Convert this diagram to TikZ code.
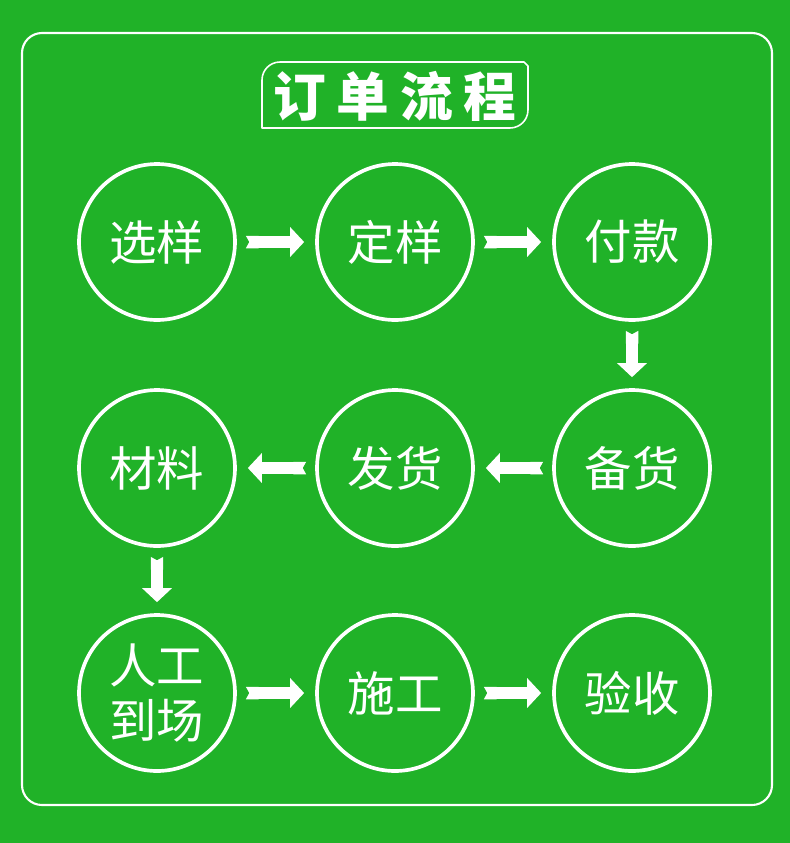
\documentclass[tikz,border=0pt]{standalone}
\usepackage{fontspec}
\newfontfamily\cjk{Noto Sans CJK SC}
\usetikzlibrary{arrows.meta}

\definecolor{gazon}{RGB}{32,178,40}

\begin{document}
\begin{tikzpicture}[x=0.02cm,y=-0.02cm,line cap=round,line join=round,
  etape/.style={circle,draw=white,line width=2.1pt,minimum size=3.12cm,
    inner sep=0pt,text=white,font=\cjk\fontsize{27}{31}\selectfont,align=center},
  fleche/.style={draw=white,line width=0.25cm,line cap=butt,
    arrows={{Triangle Cap[reversed,length=0.07cm]}-{Triangle[length=0.28cm,width=0.58cm]}},
    shorten <=0.18cm,shorten >=0.22cm}]

% -----------------------
% Fond et cadre
% -----------------------
\fill[gazon] (0,0) rectangle (790,843);
\useasboundingbox (0,0) rectangle (790,843);
\draw[white,line width=1.2pt,rounded corners=0.4cm] (22,33) rectangle (772,805);

% -----------------------
% Titre
% -----------------------
\draw[white,line width=0.9pt]
  (262,128) -- (262,80) arc[start angle=180,end angle=90,radius=0.36cm]
  -- (524,62) -- (528,66) -- (528,110) arc[start angle=0,end angle=-90,radius=0.36cm]
  -- cycle;
\node[text=white,font=\cjk\fontsize{30}{34}\selectfont\bfseries] (titre) at (395,96)
  {订\hspace{0.2em}单\hspace{0.2em}流\hspace{0.2em}程};

% -----------------------
% Etapes
% -----------------------
\node[etape] (xy) at (157,242) {选样};
\node[etape] (dy) at (395,242) {定样};
\node[etape] (fk) at (632,242) {付款};

\node[etape] (bh) at (632,468) {备货};
\node[etape] (fh) at (395,468) {发货};
\node[etape] (cl) at (157,468) {材料};

\node[etape] (rg) at (157,693) {人工\\到场};
\node[etape] (sg) at (395,693) {施工};
\node[etape] (ys) at (632,693) {验收};

% -----------------------
% Fleches
% -----------------------
\draw[fleche] (xy) -- (dy);
\draw[fleche] (dy) -- (fk);
\draw[fleche] (fk) -- (bh);
\draw[fleche] (bh) -- (fh);
\draw[fleche] (fh) -- (cl);
\draw[fleche] (cl) -- (rg);
\draw[fleche] (rg) -- (sg);
\draw[fleche] (sg) -- (ys);

\end{tikzpicture}
\end{document}
